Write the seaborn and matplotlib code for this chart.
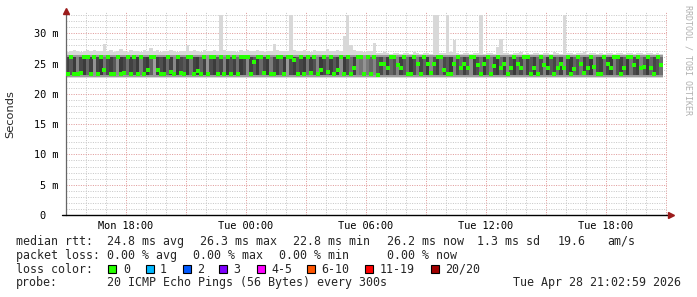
import numpy as np
import pandas as pd
import matplotlib
matplotlib.use("Agg")
import matplotlib.pyplot as plt
import seaborn as sns
from matplotlib.patches import Rectangle

# ---------------- data (10-minute steps starting Mon 15:00) ----------------
STEP_H = 1.0 / 6.0
median_rtt = [
    23.3, 26.0, 23.3, 23.2, 23.4, 26.0, 26.1, 23.3, 26.0, 23.3,
    26.0, 24.0, 26.0, 23.3, 23.2, 26.0, 23.3, 23.4, 26.1, 23.3,
    26.0, 23.3, 26.0, 23.2, 23.9, 26.0, 26.1, 23.9, 23.3, 23.3,
    26.0, 23.6, 23.3, 26.0, 23.4, 23.3, 26.1, 26.0, 23.3, 23.7,
    23.3, 26.0, 23.3, 26.0, 26.1,
    23.3, 26.0, 23.3, 26.0, 23.2,
    26.0, 23.3, 26.1, 26.0, 26.0, 23.3, 25.3, 26.0, 26.1, 23.4,
    26.0, 23.3, 23.2, 26.0, 26.1, 23.3, 26.0, 26.0, 25.6, 23.3,
    26.0, 23.3, 26.1, 23.4, 26.0, 23.3, 23.9, 26.0, 23.6, 26.1,
    23.3, 23.9, 26.0, 23.3, 26.0, 23.3, 24.3, 26.0, 26.1, 23.2,
    26.0, 23.2, 26.0, 23.1, 25.0, 25.0, 24.2, 26.0, 26.0, 24.7,
    24.2, 26.0, 23.2, 23.3, 26.0, 25.0, 23.3, 26.1, 25.0, 23.4,
    25.0, 26.0, 26.0, 23.9, 23.3, 23.2, 25.0, 26.0, 24.2, 25.0,
    24.2, 26.0, 26.1, 24.8, 23.3, 24.9, 26.0, 23.3, 24.6, 26.0,
    24.3, 25.0, 23.3, 24.2, 26.0, 24.9, 24.2, 26.0, 26.1, 23.3,
    24.2, 23.3, 26.0, 24.8, 24.2, 26.0, 23.3, 24.2, 24.9, 24.2,
    26.0, 23.3, 24.1, 26.0, 25.0, 23.4, 24.2, 26.0, 24.4, 23.3,
    23.3, 26.0, 25.0, 24.2, 26.0, 26.0, 23.3, 24.2, 26.0, 26.1,
    24.8, 26.0, 24.2, 24.5, 26.0, 24.2, 23.3, 26.0, 24.8,
]
smoke_top = [
    26.9, 27.0, 27.2, 27.0, 26.9, 27.1, 27.3, 27.0, 27.2, 27.0,
    27.1, 28.2, 27.0, 27.2, 26.9, 27.0, 27.4, 27.1, 26.9, 27.2,
    27.0, 27.1, 26.9, 27.3, 27.0, 27.6, 27.0, 27.2, 26.9, 27.1,
    27.0, 27.2, 27.0, 26.9, 27.1, 27.0, 28.0, 27.1, 27.3, 27.0,
    26.9, 27.2, 27.0, 27.1, 27.3, 27.0, 33.0, 27.2, 27.0, 27.1,
    27.0, 26.9, 27.2, 27.0, 27.3, 27.1, 27.0, 27.2, 27.0, 26.9,
    27.1, 27.0, 28.3, 27.2, 27.0, 27.1, 27.0, 33.0, 27.2, 27.0,
    27.1, 27.3, 27.0, 26.9, 27.2, 27.0, 27.1, 27.0, 27.4, 27.1,
    27.0, 27.2, 27.0, 29.6, 33.0, 28.0, 27.2, 27.0, 27.1, 26.9,
    27.0, 27.1, 28.4, 26.8, 26.7, 26.9, 26.7, 26.6, 26.8, 26.7,
    26.6, 26.8, 26.7, 26.6, 26.9, 26.7, 26.6, 26.8, 26.7, 26.6,
    33.0, 33.0, 26.8, 26.7, 33.0, 26.9, 28.8, 26.7, 26.6, 26.8,
    26.7, 26.6, 26.8, 26.7, 33.0, 26.6, 26.8, 26.7, 26.6, 27.7,
    29.1, 26.8, 26.7, 26.6, 26.8, 26.7, 26.9, 26.6, 26.7, 26.6,
    26.8, 26.7, 26.6, 26.8, 26.7, 26.6, 26.9, 26.7, 26.6, 33.0,
    26.8, 26.7, 26.6, 26.8, 26.7, 26.9, 26.6, 26.7, 26.8, 26.6,
    26.7, 26.6, 26.8, 26.7, 26.6, 26.8, 26.7, 26.6, 26.8, 26.7,
    26.6, 26.8, 26.7, 26.6, 26.8, 26.7, 26.6, 26.7, 26.6,
]
smoke_shade = [
    .22, .30, .20, .45, .25, .20, .35, .22, .50, .24,
    .20, .40, .26, .22, .30, .48, .20, .25, .38, .22,
    .28, .20, .42, .24, .20, .33, .55, .22, .27, .20,
    .36, .22, .46, .20, .25, .30, .21, .40, .23, .20,
    .34, .22, .50, .26, .20, .30, .24, .44, .20, .28,
    .22, .38, .20, .25, .47, .22, .30, .20, .36, .24,
    .20, .42, .25, .22, .33, .20, .52, .26, .21, .30,
    .24, .20, .40, .22, .28, .45, .20, .25, .35, .21,
    .30, .22, .48, .20, .27, .38, .22, .45, .40, .50,
    .42, .35, .45, .30, .25, .40, .22, .35, .28, .45,
    .22, .30, .38, .20, .26, .42, .24, .33, .20, .46,
    .28, .22, .40, .25, .30, .20, .44, .26, .35, .22,
    .30, .48, .22, .27, .38, .20, .32, .42, .24, .20,
    .36, .22, .45, .28, .20, .34, .25, .40, .22, .30,
    .21, .38, .26, .44, .20, .30, .24, .36, .22, .46,
    .25, .20, .34, .28, .40, .22, .30, .20, .45, .26,
    .22, .37, .24, .20, .42, .28, .22, .33, .20, .40,
    .26, .22, .44, .30, .20, .35, .24, .28, .38,
]
smoke_outer_lo = 22.65
smoke_mid = (22.85, 26.4)
smoke_core = (23.1, 26.15)

x_tick_hours = [3, 9, 15, 21, 27]
x_tick_labels = ["Mon 18:00", "Tue 00:00", "Tue 06:00", "Tue 12:00", "Tue 18:00"]
y_ticks = [0, 5, 10, 15, 20, 25, 30]
y_tick_labels = ["0  ", "5 m", "10 m", "15 m", "20 m", "25 m", "30 m"]

stats_line1 = [("median rtt:", 16), ("24.8 ms avg", 107), ("26.3 ms max", 200),
               ("22.8 ms min", 293), ("26.2 ms now", 387), ("1.3 ms sd", 477),
               ("19.6", 558), ("am/s", 607)]
stats_line2 = [("packet loss:", 16), ("0.00 % avg", 107), ("0.00 % max", 193),
               ("0.00 % min", 279), ("0.00 % now", 387)]
loss_labels = ["0", "1", "2", "3", "4-5", "6-10", "11-19", "20/20"]
loss_colors = ["#26ff00", "#00b8ff", "#0059ff", "#7e00ff", "#ff00ff",
               "#ff5500", "#ff0000", "#a10000"]
loss_box_x = [108, 145.7, 182.7, 219.3, 256.7, 306.7, 365.3, 430.7]
loss_label_x = [123, 160, 197, 233, 271, 321, 380, 445]
probe_text = "20 ICMP Echo Pings (56 Bytes) every 300s"
stamp_text = "Tue Apr 28 21:02:59 2026"

# ---------------- figure ----------------
sns.set_style("white")
plt.rcParams["font.family"] = ["DejaVu Sans Mono", "DejaVu Sans"]
W, H = 697, 297
fig = plt.figure(figsize=(W / 100, H / 100), dpi=100)
ax = fig.add_axes([66 / W, 1 - 215 / H, 601 / W, 203 / H])

df = pd.DataFrame({
    "t": np.arange(len(median_rtt)) * STEP_H,
    "median": median_rtt,
    "top": smoke_top,
    "shade": smoke_shade,
})
df["tc"] = df["t"] + STEP_H / 2

ax.bar(df["t"], df["top"] - smoke_outer_lo, bottom=smoke_outer_lo, width=STEP_H,
       align="edge", color="#d8d8d8", linewidth=0, antialiased=False, zorder=2)
ax.bar(df["t"], smoke_mid[1] - smoke_mid[0], bottom=smoke_mid[0], width=STEP_H,
       align="edge", color="#9a9a9a", linewidth=0, antialiased=False, zorder=2.1)
ax.bar(df["t"], smoke_core[1] - smoke_core[0], bottom=smoke_core[0], width=STEP_H,
       align="edge", color=[str(min(s * 1.15, 0.62)) for s in df["shade"]],
       linewidth=0, antialiased=False, zorder=2.2)

rect_marker = [(-1, -0.8), (1, -0.8), (1, 0.8), (-1, 0.8), (-1, -0.8)]
sns.scatterplot(data=df, x="tc", y="median", marker=rect_marker, s=7.5,
                color="#26ff00", linewidth=0, ax=ax, zorder=4, legend=False)

ax.set_xlim(0, 30.05)
ax.set_ylim(0, 33.5)
ax.set_axisbelow(True)
ax.set_xticks(np.arange(0, 31, 3))
ax.set_xticks(np.arange(0, 31, 1), minor=True)
ax.set_xticklabels([x_tick_labels[x_tick_hours.index(h)] if h in x_tick_hours else ""
                    for h in range(0, 31, 3)])
ax.set_yticks(y_ticks)
ax.set_yticklabels(y_tick_labels)
ax.set_yticks(np.arange(0, 34, 1), minor=True)
ax.tick_params(axis="x", which="both", length=0, pad=4, labelsize=7.4, colors="#000000")
ax.tick_params(axis="y", which="major", length=2.2, width=0.7, color="#444444",
               pad=3.5, labelsize=7.4, labelcolor="#000000")
ax.tick_params(axis="y", which="minor", length=1.2, width=0.6, color="#888888")
ax.set_xlabel("")
ax.set_ylabel("")

dots = (0, (1, 1.4))
ax.grid(which="minor", color="#c8c8c8", linestyle=dots, linewidth=0.72)
ax.grid(which="major", color="#e09a9a", linestyle=dots, linewidth=0.72)

for s in ["top", "right", "bottom"]:
    ax.spines[s].set_visible(False)
ax.spines["left"].set_color("#666666")
ax.spines["left"].set_linewidth(0.9)
ax.plot([-0.006, 1.004], [0, 0], transform=ax.transAxes, color="black",
        linewidth=1.0, clip_on=False, zorder=5)
ax.plot([1.007], [0], marker=">", markersize=4.5, color="#9b1b1b",
        transform=ax.transAxes, clip_on=False, zorder=6)
ax.plot([0], [1.005], marker="^", markersize=4.5, color="#9b1b1b",
        transform=ax.transAxes, clip_on=False, zorder=6)

fig.text(10 / W, 1 - 114 / H, "Seconds", rotation=90, va="center", ha="center",
         fontsize=8.2, family="DejaVu Sans")
fig.text(688 / W, 1 - 60 / H, "RRDTOOL / TOBI OETIKER", rotation=270,
         va="center", ha="center", fontsize=6.0, color="#b0b0b0")

FS = 8.4
def put(txt, x, y):
    fig.text(x / W, 1 - y / H, txt, ha="left", va="center", fontsize=FS)

for txt, x in stats_line1:
    put(txt, x, 241.5)
for txt, x in stats_line2:
    put(txt, x, 255.2)
put("loss color:", 16, 269.3)
for lab, col, bx, lx in zip(loss_labels, loss_colors, loss_box_x, loss_label_x):
    fig.add_artist(Rectangle((bx / W, 1 - 273.3 / H), 8 / W, 8 / H,
                             transform=fig.transFigure, facecolor=col,
                             edgecolor="black", linewidth=0.8))
    put(lab, lx, 269.3)
put("probe:", 16, 282.8)
put(probe_text, 107, 282.8)
put(stamp_text, 513, 282.8)

fig.savefig("out.png", dpi=100)
